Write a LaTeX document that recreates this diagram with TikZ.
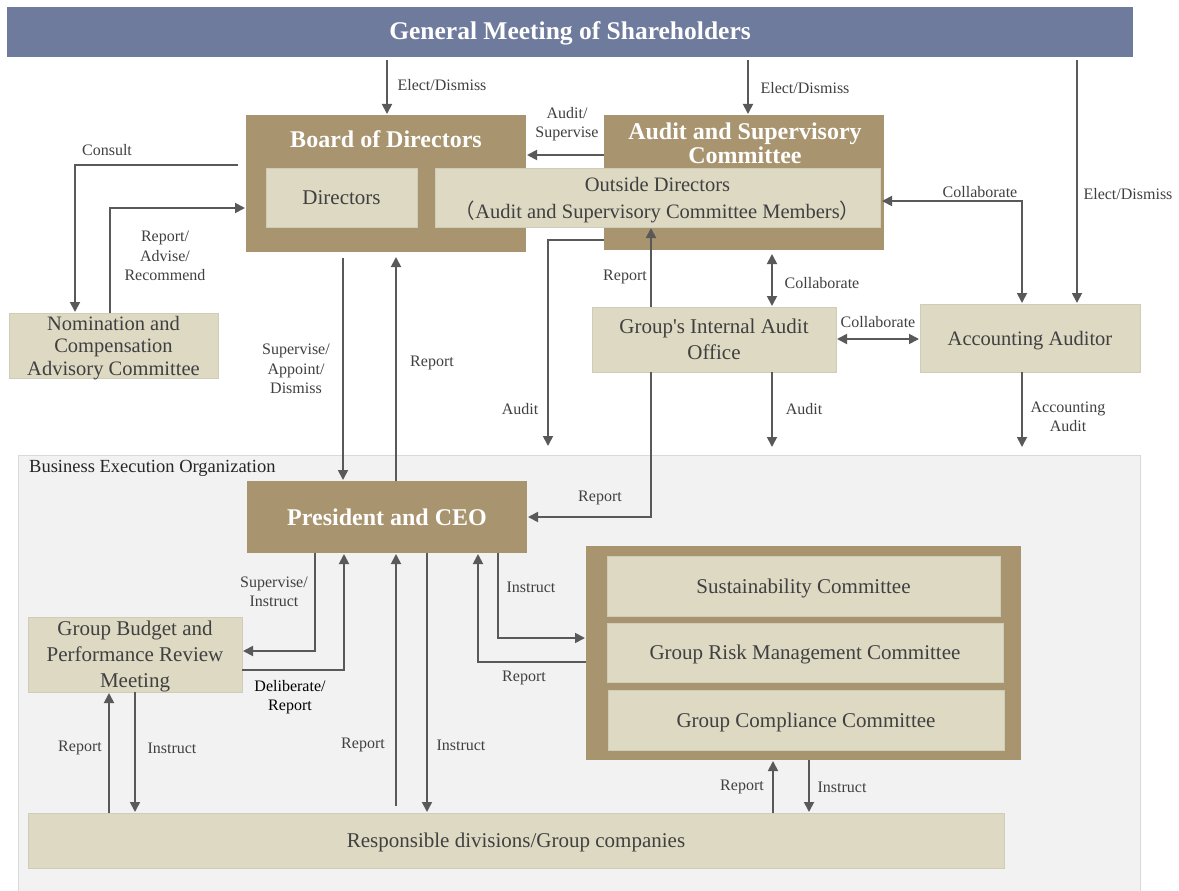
\documentclass[tikz,border=0pt]{standalone}
\usepackage{fontspec}
\setmainfont{Liberation Serif}
\newfontfamily\cjk{Noto Sans CJK JP}
\newfontfamily\plainserif[Ligatures=ResetAll]{Liberation Serif}
\usetikzlibrary{arrows.meta}
\definecolor{banner}{HTML}{6F7B9D}
\definecolor{tanc}{HTML}{A8946E}
\definecolor{lightc}{HTML}{DDD9C3}
\definecolor{arrowgray}{HTML}{595959}
\definecolor{labelgray}{HTML}{404040}
\definecolor{bgray}{HTML}{F2F2F2}
\tikzset{
 box/.style={anchor=north west, inner sep=0pt, outer sep=0pt},
 tanbox/.style={box, fill=tanc},
 lightbox/.style={box, fill=lightc, draw=lightc!85!gray, line width=0.8pt, text=labelgray, align=center, font=\fontsize{21}{26}\selectfont, text depth=0pt},
 titletext/.style={text=white, font=\bfseries\fontsize{24}{24}\selectfont, align=center, inner sep=0pt},
 lbl/.style={text=labelgray, font=\fontsize{16}{19.5}\selectfont, align=center, inner sep=0pt},
 arr/.style={draw=arrowgray, line width=1.8pt, -{Triangle[length=10pt,width=10pt]}, shorten >=1pt},
 darr/.style={draw=arrowgray, line width=1.8pt, {Triangle[length=10pt,width=10pt]}-{Triangle[length=10pt,width=10pt]}, shorten >=1pt, shorten <=1pt},
}
\begin{document}
\begin{tikzpicture}[x=1pt,y=-1pt]
\useasboundingbox[fill=white] (0,0) rectangle (1179,891);
% background of business execution organization
\node[box, fill=bgray, draw=gray!30, line width=0.8pt, minimum width=1122pt, minimum height=436pt] (beo) at (18,455) {};
\node[anchor=west, inner sep=0pt, font=\fontsize{18.5}{20}\selectfont, text=black!85] (beot) at (29,468) {Business Execution Organization};
% banner
\node[box, fill=banner, minimum width=1126pt, minimum height=50pt] (gms) at (7,7) {};
\node[titletext, font=\bfseries\fontsize{25.5}{25.5}\selectfont] (gmst) at (570,33) {General Meeting of Shareholders};
% board
\node[tanbox, minimum width=280pt, minimum height=137pt] (board) at (246,115) {};
\node[titletext] (boardt) at (386,139) {Board of Directors};
\node[lightbox, minimum width=151pt, minimum height=59pt] (dirs) at (266,168) {Directors};
% audit and supervisory committee
\node[tanbox, minimum width=280pt, minimum height=135pt] (asc) at (604,115) {};
\node[titletext] (asct) at (745,143) {Audit and Supervisory\\Committee};
\node[lightbox, minimum width=445pt, minimum height=59pt, font=\fontsize{20.5}{27}\selectfont] (outd) at (435,168) {Outside Directors\\{\cjk\smash{（}}Audit and Supervisory Committee Members{\cjk\smash{）}}};
% nomination
\node[lightbox, minimum width=209pt, minimum height=65pt, font=\fontsize{20.5}{22.5}\selectfont] (nom) at (9,313) {Nomination and\\Compensation\\Advisory Committee};
% internal audit
\node[lightbox, minimum width=244pt, minimum height=65pt] (iao) at (592,307) {Group{\plainserif\textquotesingle}s Internal Audit\\Office};
% accounting auditor
\node[lightbox, minimum width=220pt, minimum height=68pt, font=\fontsize{20.5}{26}\selectfont] (acc) at (920,304) {Accounting Auditor};
% CEO
\node[tanbox, minimum width=280pt, minimum height=72pt, titletext] (ceo) at (247,481) {President and CEO};
% committees
\node[tanbox, minimum width=435pt, minimum height=214pt] (cmt) at (586,546) {};
\node[lightbox, minimum width=393pt, minimum height=60pt] (sus) at (607,556) {Sustainability Committee};
\node[lightbox, minimum width=396pt, minimum height=59pt] (risk) at (607,623) {Group Risk Management Committee};
\node[lightbox, minimum width=396pt, minimum height=60pt] (comp) at (608,690) {Group Compliance Committee};
% budget
\node[lightbox, minimum width=214pt, minimum height=75pt] (gbp) at (28,617) {Group Budget and\\Performance Review\\Meeting};
% responsible
\node[lightbox, minimum width=976pt, minimum height=55pt] (resp) at (28,813) {Responsible divisions/Group companies};
% free ends
\coordinate (auditend) at (548,447);
\coordinate (iaoend) at (772,448);
\coordinate (accend) at (1022,448);
% connectors
\draw[arr, shorten <=3pt] (387,0 |- gms.south) -- (387,0 |- board.north);
\node[lbl] (l1) at (442,85) {Elect/Dismiss};
\draw[arr, shorten <=3pt] (748,0 |- gms.south) -- (748,0 |- asc.north);
\node[lbl] (l2) at (805,88) {Elect/Dismiss};
\draw[arr, shorten <=3pt] (1077,0 |- gms.south) -- (1077,0 |- acc.north);
\node[lbl] (l3) at (1128,194) {Elect/Dismiss};
\draw[arr] (asc.west |- 0,155) -- (board.east |- 0,155);
\node[lbl] (l4) at (567,124) {Audit/\\Supervise};
\draw[arr, shorten <=8pt] (board.west |- 0,165) -| (75,0 |- nom.north);
\node[lbl] (l5) at (107,150) {Consult};
\draw[arr] (110,0 |- nom.north) |- (board.west |- 0,208);
\node[lbl] (l6) at (165,256) {Report/\\Advise/\\Recommend};
\draw[arr, shorten <=6pt] (343,0 |- board.south) -- (343,0 |- ceo.north);
\node[lbl] (l7) at (296,369) {Supervise/\\Appoint/\\Dismiss};
\draw[arr, shorten >=5pt] (396,0 |- ceo.north) -- (396,0 |- board.south);
\node[lbl] (l8) at (432,363) {Report};
\draw[arr] (asc.west |- 0,240) -| (auditend);
\node[lbl] (l9) at (520,409) {Audit};
\draw[arr] (651,0 |- iao.north) -- (651,0 |- outd.south);
\node[lbl] (l10) at (625,277) {Report};
\draw[arr] (651,0 |- iao.south) |- (ceo.east |- 0,517);
\node[lbl] (l11) at (600,498) {Report};
\draw[darr, shorten <=4pt] (772,0 |- asc.south) -- (772,0 |- iao.north);
\node[lbl] (l12) at (822,283) {Collaborate};
\draw[darr] (iao.east |- 0,339) -- (acc.west |- 0,339);
\node[lbl] (l13) at (878,322) {Collaborate};
\draw[darr, shorten <=2pt] (outd.east |- 0,201) -| (1022,0 |- acc.north);
\node[lbl] (l14) at (980,192) {Collaborate};
\draw[arr] (772,0 |- iao.south) -- (iaoend);
\node[lbl] (l15) at (804,409) {Audit};
\draw[arr] (1022,0 |- acc.south) -- (accend);
\node[lbl] (l16) at (1068,417) {Accounting\\Audit};
\draw[arr] (498,0 |- ceo.south) |- (cmt.west |- 0,638);
\node[lbl] (l17) at (531,587) {Instruct};
\draw[arr] (cmt.west |- 0,662) -| (478,0 |- ceo.south);
\node[lbl] (l18) at (524,678) {Report};
\draw[arr] (315,0 |- ceo.south) |- (gbp.east |- 0,651);
\node[lbl] (l19) at (274,592) {Supervise/\\Instruct};
\draw[arr] (gbp.east |- 0,670) -| (344,0 |- ceo.south);
\node[lbl, text=black] (l20) at (290,697) {Deliberate/\\Report};
\draw[arr] (109,0 |- resp.north) -- (109,0 |- gbp.south);
\node[lbl] (l21) at (80,748) {Report};
\draw[arr] (135,0 |- gbp.south) -- (135,0 |- resp.north);
\node[lbl] (l22) at (172,748) {Instruct};
\draw[arr, shorten <=7pt] (396,0 |- resp.north) -- (396,0 |- ceo.south);
\node[lbl] (l23) at (363,745) {Report};
\draw[arr] (427,0 |- ceo.south) -- (427,0 |- resp.north);
\node[lbl] (l24) at (461,745) {Instruct};
\draw[arr] (773,0 |- resp.north) -- (773,0 |- cmt.south);
\node[lbl] (l25) at (742,787) {Report};
\draw[arr] (809,0 |- cmt.south) -- (809,0 |- resp.north);
\node[lbl] (l26) at (842,787) {Instruct};
\end{tikzpicture}
\end{document}
